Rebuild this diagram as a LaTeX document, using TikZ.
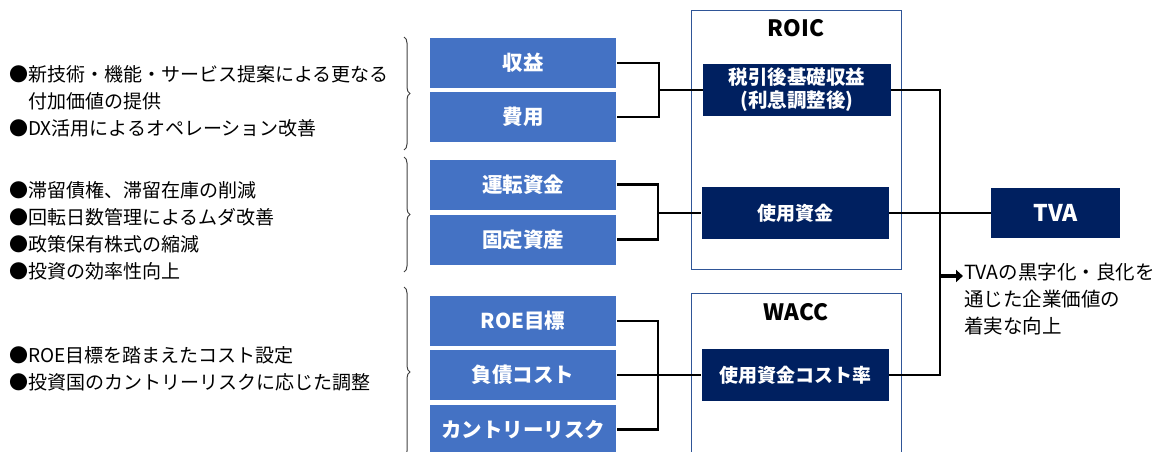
\documentclass[tikz,border=0pt]{standalone}
\usepackage{fontspec}
\setmainfont{Noto Sans CJK JP}
\usetikzlibrary{decorations.pathreplacing,arrows.meta,calc}
\definecolor{lblue}{HTML}{4472C4}
\definecolor{dnavy}{HTML}{002060}
\definecolor{frameblue}{HTML}{2F5597}
\begin{document}
\begin{tikzpicture}[x=1pt,y=-1pt,
  bluebox/.style={fill=lblue,draw=white,line width=0.6pt,text=white,font=\bfseries\fontsize{20.5}{22}\selectfont,minimum width=187pt,minimum height=51pt,inner sep=0pt},
  navybox/.style={fill=dnavy,draw=none,text=white,font=\bfseries\fontsize{19}{22}\selectfont,minimum height=52pt,inner sep=0pt,align=center},
  frame/.style={draw=frameblue,line width=0.8pt},
  conn/.style={line width=2.4pt,black},
  bracestyle/.style={draw=black!75,line width=1pt,decorate,decoration={brace,amplitude=6pt}},
  notes/.style={anchor=west,align=left,font=\fontsize{19}{27}\selectfont,inner sep=0pt},
  title/.style={font=\bfseries\fontsize{22.5}{24}\selectfont}]
\useasboundingbox (0,0) rectangle (1168,452);
\begin{scope}
\clip (0,0) rectangle (1168,452);
% frames
\draw[frame] (691,10) rectangle (901,269);
\draw[frame] (691,293) rectangle (901,470);
\node[title] (roic) at (796,28) {ROIC};
\node[title] (wacc) at (796,312) {WACC};
% braces
\draw[bracestyle] (404,37) -- (404,150);
\draw[bracestyle] (404,157) -- (404,272);
\draw[bracestyle] (404,287) -- (404,457);
% left notes
\node[notes] (n1) at (9,101.5) {●新技術・機能・サービス提案による更なる\\\hphantom{●}付加価値の提供\\●DX活用によるオペレーション改善};
\node[notes] (n2) at (9,231) {●滞留債権、滞留在庫の削減\\●回転日数管理によるムダ改善\\●政策保有株式の縮減\\●投資の効率性向上};
\node[notes] (n3) at (9,368.5) {●ROE目標を踏まえたコスト設定\\●投資国のカントリーリスクに応じた調整};
% blue boxes
\node[bluebox] (rev) at (523,63) {収益};
\node[bluebox] (exp) at (523,117) {費用};
\node[bluebox] (wc) at (523,184.5) {運転資金};
\node[bluebox] (fa) at (523,239.5) {固定資産};
\node[bluebox] (roe) at (523,321) {ROE目標};
\node[bluebox] (debt) at (523,375) {負債コスト};
\node[bluebox] (cr) at (523,429.5) {カントリーリスク};
% navy boxes
\node[navybox,minimum width=188pt,font=\bfseries\fontsize{19.5}{23}\selectfont] (ebit) at (797,90) {税引後基礎収益\\(利息調整後)};
\node[navybox,minimum width=187pt] (ic) at (795,213) {使用資金};
\node[navybox,minimum width=187pt] (rate) at (795,375) {使用資金コスト率};
\node[navybox,minimum width=129pt,minimum height=50pt,font=\bfseries\fontsize{23}{24}\selectfont] (tva) at (1055.5,213) {TVA};
% junctions
\coordinate (j1) at (659,90);
\coordinate (j2) at (658,213);
\coordinate (j3) at (658,375);
\coordinate (bus) at (940,0);
\coordinate (arr) at (940,276);
\coordinate (arrend) at (963,276);
% connectors
\draw[conn] (rev.east) -| (j1) |- (exp.east);
\draw[conn] (j1) -- (ebit.west);
\draw[conn] (wc.east) -| (j2) |- (fa.east);
\draw[conn] (j2) -- (ic.west);
\draw[conn] (roe.east) -| (j3) |- (cr.east);
\draw[conn] (debt.east) -- (rate.west);
\draw[conn] (ebit.east) -- (ebit.east -| bus) -- (rate.east -| bus) -- (rate.east);
\draw[conn] (ic.east) -- (tva.west);
\draw[line width=3.2pt,black,-{Triangle[length=7pt,width=12pt]}] (arr) -- (arrend);
\node[anchor=north west,align=left,inner sep=0pt,font=\fontsize{19.5}{27}\selectfont] (result) at (964,263) {TVAの黒字化・良化を\\通じた企業価値の\\着実な向上};
\end{scope}
\end{tikzpicture}
\end{document}
